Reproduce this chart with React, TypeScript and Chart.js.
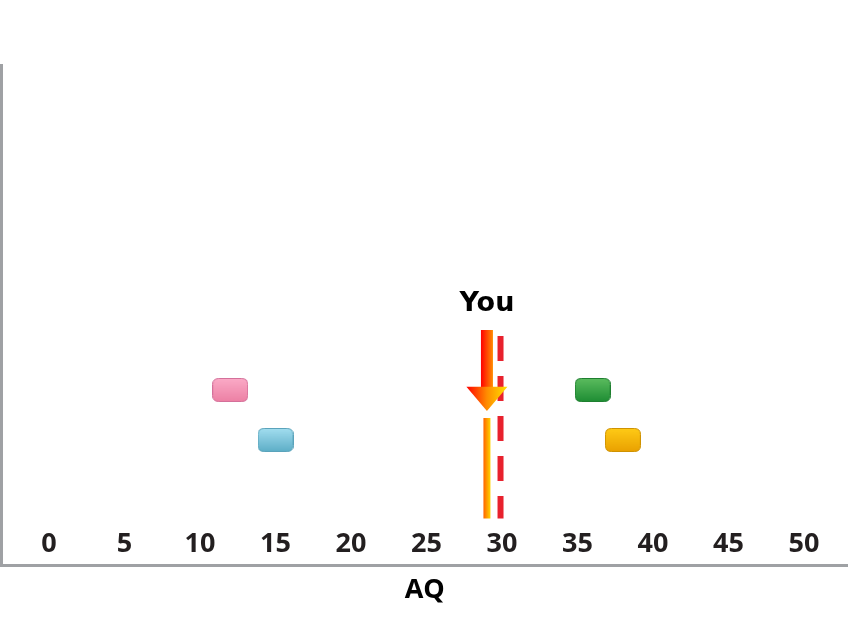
import React, { useEffect, useRef } from 'react';
import { Chart, registerables } from 'chart.js';

Chart.register(...registerables);

// ---- data ----
const X_TICKS = [0, 5, 10, 15, 20, 25, 30, 35, 40, 45, 50];
const X_MIN = -3.146;
const X_MAX = 52.91;
const Y_MIN = 0;
const Y_MAX = 10;
const X_TITLE = 'AQ';

const BOX_NAMES = ['Pink', 'Blue', 'Green', 'Yellow'];
const BOX_X = [12, 15, 36, 38];
const BOX_Y = [3.5, 2.5, 3.5, 2.5];

const YOU_X = 29;
const YOU_LINE_Y = [0.93, 2.94];
const ARROW_Y = [4.7, 3.566, 3.08]; // shaft top, head base, tip
const YOU_LABEL = 'You';
const YOU_LABEL_Y = 5.22;

const REF_X = 29.9;
const REF_LINE_Y = [4.58, 0.93];

// ---- styles ----
const BOX_STYLES = [
  { top: '#fbabc7', bottom: '#ec7fa3', border: '#d4709a' },
  { top: '#a3def0', bottom: '#5cadc6', border: '#5aa3bb' },
  { top: '#5cbc5f', bottom: '#1d8c33', border: '#1e7f2f' },
  { top: '#ffcb16', bottom: '#e9a000', border: '#cf9200' },
];

function makeBox(s: { top: string; bottom: string; border: string }) {
  const w = 36;
  const h = 24;
  const c = document.createElement('canvas');
  c.width = w;
  c.height = h;
  const g = c.getContext('2d')!;
  const r = 6;
  const x0 = 0.5, y0 = 0.5, x1 = w - 0.5, y1 = h - 0.5;
  g.beginPath();
  g.moveTo(x0 + r, y0);
  g.lineTo(x1 - r, y0);
  g.quadraticCurveTo(x1, y0, x1, y0 + r);
  g.lineTo(x1, y1 - r);
  g.quadraticCurveTo(x1, y1, x1 - r, y1);
  g.lineTo(x0 + r, y1);
  g.quadraticCurveTo(x0, y1, x0, y1 - r);
  g.lineTo(x0, y0 + r);
  g.quadraticCurveTo(x0, y0, x0 + r, y0);
  g.closePath();
  const grad = g.createLinearGradient(0, 0, 0, h);
  grad.addColorStop(0, s.top);
  grad.addColorStop(1, s.bottom);
  g.fillStyle = grad;
  g.fill();
  g.strokeStyle = s.border;
  g.lineWidth = 1;
  g.stroke();
  return c;
}

const youArrowPlugin = {
  id: 'youArrow',
  afterDatasetsDraw(chart: any) {
    const { ctx, scales } = chart;
    const x = scales.x;
    const y = scales.y;
    const cx = x.getPixelForValue(YOU_X);
    const top = y.getPixelForValue(ARROW_Y[0]);
    const base = y.getPixelForValue(ARROW_Y[1]);
    const tip = y.getPixelForValue(ARROW_Y[2]);
    ctx.save();
    const sw = 12;
    let g = ctx.createLinearGradient(cx - sw / 2, 0, cx + sw / 2, 0);
    g.addColorStop(0, '#ff0000');
    g.addColorStop(1, '#ff8c00');
    ctx.fillStyle = g;
    ctx.fillRect(cx - sw / 2, top, sw, base - top + 1);
    const hw = 41;
    g = ctx.createLinearGradient(cx - hw / 2, 0, cx + hw / 2, 0);
    g.addColorStop(0, '#ff0000');
    g.addColorStop(0.5, '#ff8c00');
    g.addColorStop(1, '#ffe200');
    ctx.fillStyle = g;
    ctx.beginPath();
    ctx.moveTo(cx - hw / 2, base);
    ctx.lineTo(cx + hw / 2, base);
    ctx.lineTo(cx, tip);
    ctx.closePath();
    ctx.fill();
    ctx.font = 'bold 27px "DejaVu Sans"';
    ctx.fillStyle = '#000000';
    ctx.textAlign = 'center';
    ctx.textBaseline = 'middle';
    ctx.fillText(YOU_LABEL, cx, y.getPixelForValue(YOU_LABEL_Y));
    ctx.restore();
  },
};

export default function App() {
  const ref = useRef<HTMLCanvasElement>(null);

  useEffect(() => {
    if (!ref.current) return;
    const boxImgs = BOX_STYLES.map(makeBox);

    const youGradient = (c: any) => {
      const chart = c.chart;
      const sx = chart.scales && chart.scales.x;
      if (!chart.chartArea || !sx) return '#ff9900';
      const px = sx.getPixelForValue(YOU_X);
      const g = chart.ctx.createLinearGradient(px - 3.5, 0, px + 3.5, 0);
      g.addColorStop(0, '#ff6400');
      g.addColorStop(1, '#ffd400');
      return g;
    };

    const datasets: any[] = [
      {
        label: 'You',
        data: [
          { x: YOU_X, y: YOU_LINE_Y[0] },
          { x: YOU_X, y: YOU_LINE_Y[1] },
        ],
        showLine: true,
        borderWidth: 7,
        borderColor: youGradient,
        borderCapStyle: 'butt',
        pointRadius: 0,
        pointHoverRadius: 0,
      },
      ...BOX_NAMES.map((name, i) => ({
        label: name,
        data: [{ x: BOX_X[i], y: BOX_Y[i] }],
        showLine: false,
        pointStyle: boxImgs[i],
        pointRadius: 10,
        backgroundColor: BOX_STYLES[i].top,
        borderColor: BOX_STYLES[i].border,
      })),
      {
        label: 'Reference',
        data: [
          { x: REF_X, y: REF_LINE_Y[0] },
          { x: REF_X, y: REF_LINE_Y[1] },
        ],
        showLine: true,
        borderWidth: 6,
        borderColor: '#e8212d',
        borderDash: [25, 15],
        borderCapStyle: 'butt',
        pointRadius: 0,
        pointHoverRadius: 0,
      },
    ];

    const tickFont = { family: "'Open Sans', sans-serif", size: 27, weight: 'bold' as const };

    const chart = new Chart(ref.current, {
      type: 'scatter',
      data: { datasets },
      options: {
        animation: false,
        responsive: false,
        devicePixelRatio: 1,
        events: [],
        layout: { autoPadding: false, padding: { top: 65, left: 1.5, right: 0, bottom: 0 } },
        plugins: {
          legend: { display: false },
          tooltip: { enabled: false },
        },
        scales: {
          x: {
            type: 'linear',
            min: X_MIN,
            max: X_MAX,
            afterBuildTicks: (scale: any) => {
              scale.ticks = X_TICKS.map((v) => ({ value: v }));
            },
            ticks: {
              mirror: true,
              padding: 4,
              font: tickFont,
              color: '#231f20',
              callback: (v: any) => String(v),
            },
            grid: { display: false, drawTicks: false, tickLength: 0 },
            border: { display: true, color: '#9fa1a4', width: 3 },
            title: {
              display: true,
              text: X_TITLE,
              color: '#000000',
              font: tickFont,
              padding: { top: 1.6, bottom: 14 },
            },
          },
          y: {
            type: 'linear',
            min: Y_MIN,
            max: Y_MAX,
            ticks: { display: false },
            grid: { display: false, drawTicks: false, tickLength: 0 },
            border: { display: true, color: '#9fa1a4', width: 3 },
          },
        },
      },
      plugins: [youArrowPlugin],
    });

    return () => chart.destroy();
  }, []);

  return (
    <div style={{ position: 'fixed', left: 0, top: 0, width: 848, height: 621, background: '#ffffff' }}>
      <canvas ref={ref} width={848} height={621} style={{ display: 'block', width: 848, height: 621 }} />
    </div>
  );
}
